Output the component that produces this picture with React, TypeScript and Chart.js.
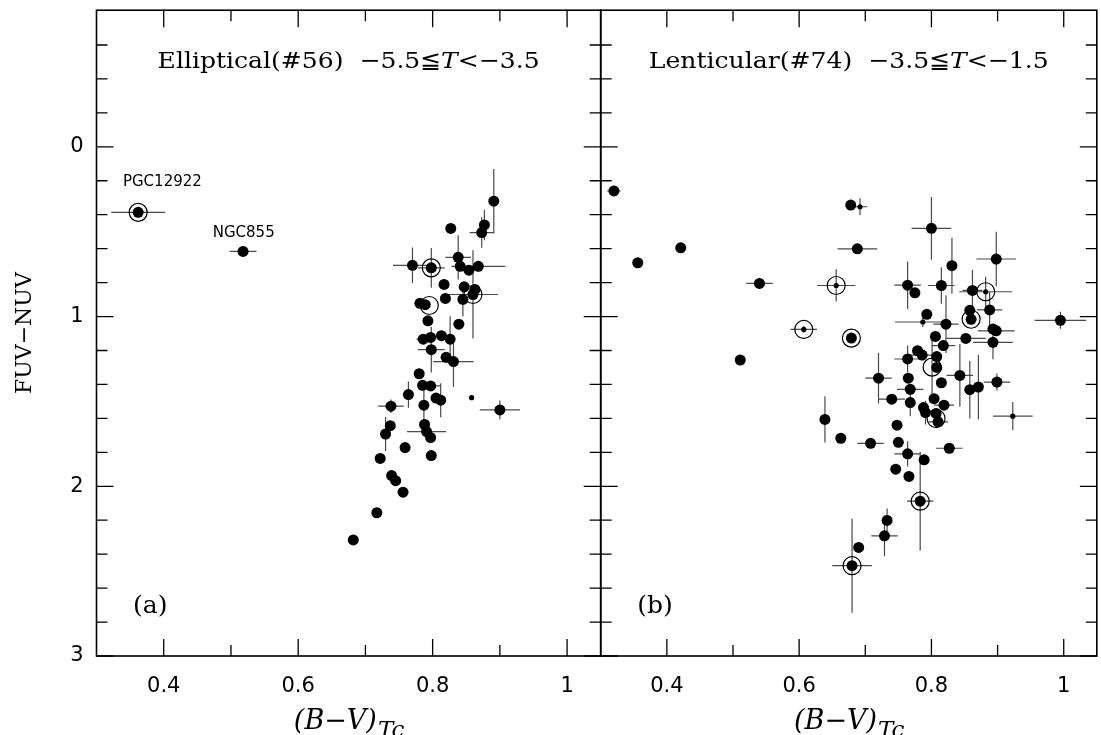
import { useEffect, useRef } from "react";
import { Chart, registerables } from "chart.js";
Chart.register(...registerables);

// ---------------- Panel (a): Elliptical ----------------
const ellX = [0.362, 0.518, 0.891, 0.877, 0.873, 0.827, 0.838, 0.770, 0.798, 0.841, 0.854, 0.868, 0.817, 0.847, 0.863, 0.860, 0.819, 0.845, 0.781, 0.789, 0.795, 0.793, 0.839, 0.786, 0.797, 0.813, 0.826, 0.798, 0.820, 0.831, 0.780, 0.785, 0.797, 0.764, 0.805, 0.812, 0.858, 0.900, 0.738, 0.787, 0.737, 0.730, 0.788, 0.791, 0.797, 0.759, 0.798, 0.722, 0.739, 0.745, 0.756, 0.717, 0.682];
const ellY = [0.386, 0.616, 0.320, 0.460, 0.505, 0.481, 0.651, 0.698, 0.713, 0.704, 0.727, 0.704, 0.811, 0.825, 0.840, 0.870, 0.893, 0.899, 0.922, 0.930, 0.935, 1.025, 1.045, 1.133, 1.123, 1.113, 1.133, 1.195, 1.240, 1.265, 1.337, 1.405, 1.409, 1.460, 1.480, 1.493, 1.478, 1.550, 1.528, 1.522, 1.643, 1.692, 1.636, 1.678, 1.713, 1.772, 1.819, 1.836, 1.937, 1.967, 2.035, 2.156, 2.316];
const ellXErr = [0.040, 0.020, 0, 0, 0.018, 0, 0.019, 0.029, 0.020, 0, 0, 0.040, 0, 0, 0, 0.037, 0, 0, 0, 0, 0, 0, 0, 0.010, 0, 0, 0, 0.020, 0, 0.030, 0, 0, 0.016, 0, 0, 0, 0, 0.030, 0.019, 0, 0, 0, 0, 0.029, 0, 0, 0, 0, 0, 0, 0, 0, 0];
const ellYErr = [0.02, 0.01, 0.19, 0.09, 0.09, 0, 0.13, 0.105, 0.117, 0, 0, 0.03, 0, 0, 0, 0.26, 0, 0.10, 0, 0, 0, 0, 0, 0, 0, 0, 0.135, 0.135, 0, 0.15, 0, 0, 0, 0.077, 0, 0.10, 0, 0.055, 0.04, 0.12, 0, 0.10, 0, 0, 0, 0, 0, 0, 0, 0, 0, 0, 0.03];
// f = filled, s = small dot, r = ring + filled, rs = ring + small dot, o = ring only
const ellMarker = ["r", "f", "f", "f", "f", "f", "f", "f", "r", "f", "f", "f", "f", "f", "f", "r", "f", "f", "f", "f", "o", "f", "f", "f", "f", "f", "f", "f", "f", "f", "f", "f", "f", "f", "f", "f", "s", "f", "f", "f", "f", "f", "f", "f", "f", "f", "f", "f", "f", "f", "f", "f", "f"];

// ---------------- Panel (b): Lenticular ----------------
const lenX = [0.320, 0.356, 0.421, 0.540, 0.511, 0.656, 0.607, 0.679, 0.678, 0.692, 0.688, 0.800, 0.831, 0.898, 0.764, 0.775, 0.815, 0.862, 0.882, 0.858, 0.860, 0.888, 0.793, 0.787, 0.822, 0.893, 0.898, 0.893, 0.852, 0.806, 0.818, 0.779, 0.786, 0.764, 0.808, 0.801, 0.808, 0.720, 0.765, 0.815, 0.843, 0.899, 0.768, 0.858, 0.871, 0.740, 0.768, 0.804, 0.819, 0.788, 0.791, 0.807, 0.807, 0.810, 0.923, 0.995, 0.639, 0.748, 0.663, 0.708, 0.750, 0.764, 0.789, 0.746, 0.766, 0.783, 0.827, 0.733, 0.729, 0.690, 0.680];
const lenY = [0.260, 0.683, 0.595, 0.805, 1.256, 0.817, 1.076, 1.127, 0.343, 0.353, 0.601, 0.480, 0.700, 0.661, 0.815, 0.860, 0.817, 0.846, 0.854, 0.963, 1.016, 0.961, 0.987, 1.032, 1.045, 1.074, 1.084, 1.152, 1.129, 1.117, 1.171, 1.201, 1.227, 1.250, 1.236, 1.298, 1.300, 1.363, 1.363, 1.390, 1.347, 1.386, 1.429, 1.431, 1.415, 1.487, 1.507, 1.484, 1.522, 1.536, 1.566, 1.571, 1.601, 1.620, 1.587, 1.022, 1.606, 1.640, 1.717, 1.747, 1.741, 1.809, 1.844, 1.899, 1.942, 2.088, 1.776, 2.201, 2.292, 2.360, 2.468];
const lenXErr = [0.010, 0, 0, 0.020, 0, 0.029, 0.020, 0, 0, 0.011, 0.030, 0.030, 0, 0.030, 0.020, 0, 0.020, 0.015, 0.040, 0, 0, 0.019, 0, 0.042, 0.019, 0, 0.028, 0.030, 0.030, 0, 0.018, 0, 0.026, 0.020, 0, 0, 0, 0.020, 0, 0, 0.020, 0.020, 0.020, 0, 0, 0.020, 0, 0, 0.015, 0, 0, 0, 0, 0.015, 0.030, 0.039, 0, 0, 0, 0.020, 0, 0.020, 0, 0, 0, 0.020, 0.020, 0, 0.020, 0, 0.030];
const lenYErr = [0, 0, 0, 0, 0, 0.095, 0.020, 0, 0, 0.050, 0, 0.185, 0.165, 0.160, 0.140, 0, 0.107, 0.120, 0.088, 0, 0, 0.110, 0, 0.030, 0.170, 0, 0, 0.100, 0, 0, 0, 0, 0, 0.080, 0, 0.200, 0, 0.150, 0, 0, 0.185, 0.050, 0, 0.170, 0.190, 0, 0.080, 0, 0, 0, 0.070, 0, 0, 0, 0.083, 0.050, 0.136, 0, 0, 0, 0, 0.075, 0, 0, 0, 0.290, 0, 0.070, 0.120, 0.030, 0.277];
const lenMarker = ["f", "f", "f", "f", "f", "rs", "rs", "r", "f", "s", "f", "f", "f", "f", "f", "f", "f", "f", "rs", "f", "r", "f", "f", "s", "f", "f", "f", "f", "f", "f", "f", "f", "f", "f", "f", "o", "f", "f", "f", "f", "f", "f", "f", "f", "f", "f", "f", "f", "f", "f", "f", "f", "o", "f", "s", "f", "f", "f", "f", "f", "f", "f", "f", "f", "f", "r", "f", "f", "f", "f", "r"];

// ---------------- Axes ----------------
const xLabelTicks = [0.4, 0.6, 0.8, 1.0];
const xMinorTicks = [0.5, 0.7, 0.9];
const yLabelTicks = [0, 1, 2, 3];
const yMinorTicks = [-0.6, -0.4, -0.2, 0.2, 0.4, 0.6, 0.8, 1.2, 1.4, 1.6, 1.8, 2.2, 2.4, 2.6, 2.8];
const X_MIN = 0.3;
const X_MAX = 1.05;
const Y_MIN = -0.805;
const Y_MAX = 3;

const SERIF = '"DejaVu Serif", "Liberation Serif", serif';
const SANS = '"DejaVu Sans", "Liberation Sans", sans-serif';

type Seg = { t: string; it?: boolean };

interface Panel {
  xs: number[]; ys: number[]; xe: number[]; ye: number[]; kinds: string[];
  title: Seg[]; titleWidth: number; tag: string; showY: boolean;
  padLeft: number; padRight: number; notes: { text: string; x: number; y: number }[];
}

const panelA: Panel = {
  xs: ellX, ys: ellY, xe: ellXErr, ye: ellYErr, kinds: ellMarker,
  title: [{ t: "Elliptical(#56)  \u22125.5\u2266" }, { t: "T", it: true }, { t: "<\u22123.5" }],
  titleWidth: 382, tag: "(a)", showY: true, padLeft: 0, padRight: 19.3,
  notes: [{ text: "PGC12922", x: 0.398, y: 0.205 }, { text: "NGC855", x: 0.519, y: 0.507 }],
};
const panelB: Panel = {
  xs: lenX, ys: lenY, xe: lenXErr, ye: lenYErr, kinds: lenMarker,
  title: [{ t: "Lenticular(#74)  \u22123.5\u2266" }, { t: "T", it: true }, { t: "<\u22121.5" }],
  titleWidth: 400, tag: "(b)", showY: false, padLeft: 20.7, padRight: 2,
  notes: [],
};

const fmtTick = (v: number) => String(Math.round(v * 10) / 10);

function buildSets(p: Panel) {
  const filled: { x: number; y: number }[] = [];
  const small: { x: number; y: number }[] = [];
  const ring: { x: number; y: number }[] = [];
  p.kinds.forEach((k, i) => {
    const pt = { x: p.xs[i], y: p.ys[i] };
    if (k === "f" || k === "r") filled.push(pt);
    if (k === "s" || k === "rs") small.push(pt);
    if (k === "r" || k === "rs" || k === "o") ring.push(pt);
  });
  return [
    { label: "filled", data: filled, pointRadius: 5.5, pointHoverRadius: 5.5, backgroundColor: "#000", borderColor: "#000", borderWidth: 0 },
    { label: "small", data: small, pointRadius: 2.6, pointHoverRadius: 2.6, backgroundColor: "#000", borderColor: "#000", borderWidth: 0 },
    { label: "ring", data: ring, pointRadius: 9, pointHoverRadius: 9, backgroundColor: "rgba(0,0,0,0)", borderColor: "#000", borderWidth: 1.2 },
  ];
}

function makePlugin(p: Panel) {
  return {
    id: "decor",
    beforeDatasetsDraw(chart: any) {
      const { ctx, scales } = chart;
      const x = scales.x, y = scales.y;
      ctx.save();
      ctx.strokeStyle = "#4a4a4a";
      ctx.lineWidth = 1.2;
      ctx.beginPath();
      for (let i = 0; i < p.xs.length; i++) {
        const cx = x.getPixelForValue(p.xs[i]);
        const cy = y.getPixelForValue(p.ys[i]);
        if (p.xe[i] > 0) {
          ctx.moveTo(x.getPixelForValue(p.xs[i] - p.xe[i]), cy);
          ctx.lineTo(x.getPixelForValue(p.xs[i] + p.xe[i]), cy);
        }
        if (p.ye[i] > 0) {
          ctx.moveTo(cx, y.getPixelForValue(p.ys[i] - p.ye[i]));
          ctx.lineTo(cx, y.getPixelForValue(p.ys[i] + p.ye[i]));
        }
      }
      ctx.stroke();
      ctx.restore();
    },
    afterDraw(chart: any) {
      const { ctx, chartArea: a, scales } = chart;
      const x = scales.x, y = scales.y;
      ctx.save();
      ctx.strokeStyle = "#000";
      ctx.lineWidth = 1.3;
      ctx.beginPath();
      const xt = (v: number, len: number) => {
        const px = x.getPixelForValue(v);
        ctx.moveTo(px, a.bottom); ctx.lineTo(px, a.bottom - len);
        ctx.moveTo(px, a.top); ctx.lineTo(px, a.top + len);
      };
      const yt = (v: number, len: number) => {
        const py = y.getPixelForValue(v);
        ctx.moveTo(a.left, py); ctx.lineTo(a.left + len, py);
        ctx.moveTo(a.right, py); ctx.lineTo(a.right - len, py);
      };
      xLabelTicks.forEach((v) => xt(v, 17));
      xMinorTicks.forEach((v) => xt(v, 11));
      yLabelTicks.forEach((v) => yt(v, 17));
      yMinorTicks.forEach((v) => yt(v, 11));
      ctx.stroke();
      ctx.lineWidth = 1.6;
      ctx.strokeRect(a.left, a.top, a.right - a.left, a.bottom - a.top);

      ctx.fillStyle = "#000";
      const cxMid = x.getPixelForValue((X_MIN + X_MAX) / 2);

      // Title
      const tSize = 23;
      ctx.textBaseline = "alphabetic";
      ctx.textAlign = "left";
      let total = 0;
      const widths = p.title.map((s) => {
        ctx.font = `${s.it ? "italic " : ""}${tSize}px ${SERIF}`;
        const w = ctx.measureText(s.t).width;
        total += w;
        return w;
      });
      const sx = p.titleWidth / total;
      ctx.save();
      ctx.translate(cxMid - p.titleWidth / 2, 68.3);
      ctx.scale(sx, 1);
      let off = 0;
      p.title.forEach((s, i) => {
        ctx.font = `${s.it ? "italic " : ""}${tSize}px ${SERIF}`;
        ctx.fillText(s.t, off, 0);
        off += widths[i];
      });
      ctx.restore();

      // Panel tag
      ctx.font = `25px ${SERIF}`;
      ctx.fillText(p.tag, a.left + 36.5, 613);

      // X axis title (B−V)Tc
      const mainF = `italic 27px ${SERIF}`;
      const subF = `italic 23px ${SERIF}`;
      ctx.font = mainF;
      const w1 = ctx.measureText("(B\u2212V)").width;
      ctx.font = subF;
      const w2 = ctx.measureText("Tc").width;
      const sx0 = cxMid - (w1 + w2) / 2;
      ctx.font = mainF;
      ctx.fillText("(B\u2212V)", sx0, 729);
      ctx.font = subF;
      ctx.fillText("Tc", sx0 + w1 + 1, 737);

      // Notes
      ctx.font = `15px ${SANS}`;
      ctx.textAlign = "center";
      ctx.textBaseline = "middle";
      p.notes.forEach((n) => {
        ctx.fillText(n.text, x.getPixelForValue(n.x), y.getPixelForValue(n.y));
      });

      // Y title
      if (p.showY) {
        ctx.save();
        ctx.translate(25, (a.top + a.bottom) / 2);
        ctx.rotate(-Math.PI / 2);
        ctx.font = `22px ${SERIF}`;
        ctx.textAlign = "center";
        ctx.textBaseline = "middle";
        ctx.fillText("FUV\u2212NUV", 0, 0);
        ctx.restore();
      }
      ctx.restore();
    },
  };
}

function makeConfig(p: Panel): any {
  return {
    type: "scatter",
    data: { datasets: buildSets(p) },
    options: {
      animation: false,
      responsive: false,
      maintainAspectRatio: false,
      events: [],
      layout: { padding: { top: 4.7, bottom: 0, left: p.padLeft, right: p.padRight } },
      plugins: { legend: { display: false }, tooltip: { enabled: false }, title: { display: false } },
      scales: {
        x: {
          type: "linear", position: "bottom", min: X_MIN, max: X_MAX,
          grid: { display: false, drawTicks: false }, border: { display: false },
          afterBuildTicks: (s: any) => { s.ticks = xLabelTicks.map((v) => ({ value: v })); },
          afterFit: (s: any) => { s.height = 79; s.paddingLeft = 0; s.paddingRight = 0; },
          ticks: {
            callback: (v: number) => fmtTick(v), color: "#000", padding: 18,
            font: { family: SANS, size: 21 }, maxRotation: 0, minRotation: 0, autoSkip: false,
          },
        },
        y: {
          type: "linear", position: "left", min: Y_MIN, max: Y_MAX, reverse: true, display: p.showY,
          grid: { display: false, drawTicks: false }, border: { display: false },
          afterBuildTicks: (s: any) => { s.ticks = yLabelTicks.map((v) => ({ value: v })); },
          afterFit: (s: any) => { s.width = p.showY ? 96.5 : 0; s.paddingTop = 0; s.paddingBottom = 0; },
          ticks: {
            callback: (v: number) => fmtTick(v), color: "#000", padding: 13,
            font: { family: SANS, size: 21 }, autoSkip: false,
          },
        },
      },
    },
    plugins: [makePlugin(p)],
  };
}

export default function App() {
  const leftRef = useRef<HTMLCanvasElement>(null);
  const rightRef = useRef<HTMLCanvasElement>(null);
  useEffect(() => {
    const c1 = new Chart(leftRef.current!, makeConfig(panelA));
    const c2 = new Chart(rightRef.current!, makeConfig(panelB));
    return () => { c1.destroy(); c2.destroy(); };
  }, []);
  return (
    <div style={{ position: "absolute", left: 0, top: 0, width: 1101, height: 735, overflow: "hidden", background: "#fff" }}>
      <canvas ref={leftRef} width={620} height={735} style={{ position: "absolute", left: 0, top: 0, width: 620, height: 735 }} />
      <canvas ref={rightRef} width={527} height={735} style={{ position: "absolute", left: 580, top: 0, width: 527, height: 735 }} />
    </div>
  );
}
